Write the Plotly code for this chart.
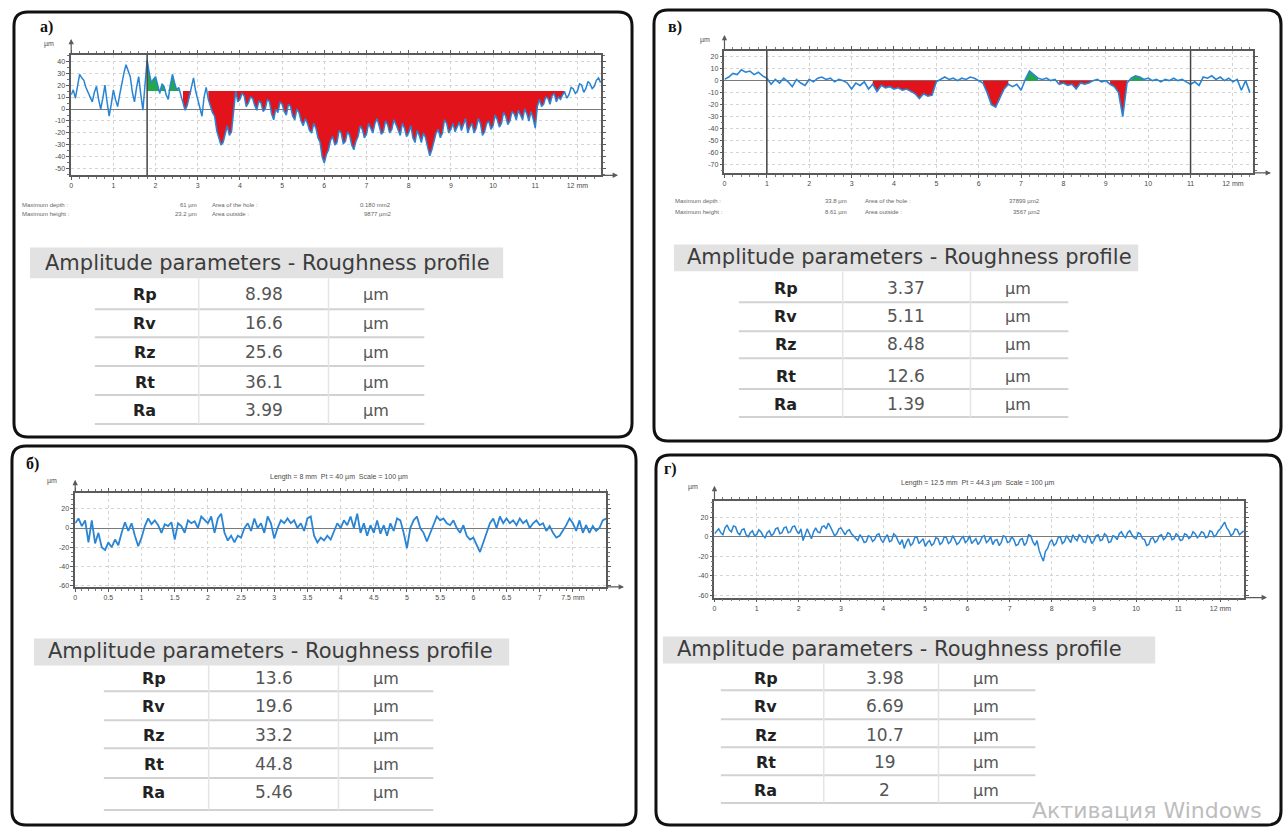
import plotly.graph_objects as go

W, H = 1283, 829


def fx(p):
    return p / W


def fy(p):
    return 1 - p / H


# ------------------------------------------------------------------ data
# panel а) profile, sampled every 0.05 mm (µm)
step_a = 0.05
prof_a = [12, 16, 9, 20, 29, 26, 24, 18, 14, 10,
          6, 14, 19, 8, 0, 9, 20, 6, -6, 4,
          16, 8, 2, 12, 22, 30, 37, 31, 27, 14,
          6, 18, 27, 12, -1, 20, 41, 30, 22, 25,
          27, 20, 13, 21, 19, 12, 8, 20, 29, 22,
          16, 18, 12, 6, -1, 3, 10, 18, 26, 15,
          8, 0, -6, 10, 18, 8, 2, -3, -6, -18,
          -24, -30, -28, -20, -14, -22, -19, -2, 15, 6,
          8, 13, 11, 2, 5, 10, 9, 3, -1, 7,
          5, -2, 0, 8, 6, -4, -9, 0, -3, 6,
          4, -2, -5, 4, 2, -6, -9, 0, -3, -10,
          -14, -8, -12, -18, -20, -12, -16, -24, -28, -40,
          -45, -38, -34, -26, -23, -30, -28, -18, -20, -29,
          -27, -19, -22, -30, -34, -27, -23, -14, -17, -24,
          -21, -12, -16, -20, -12, -8, -14, -21, -19, -10,
          -13, -20, -17, -9, -13, -18, -22, -12, -16, -23,
          -20, -14, -24, -28, -18, -22, -28, -20, -24, -32,
          -39, -34, -26, -20, -17, -24, -20, -9, -12, -20,
          -17, -12, -19, -15, -11, -18, -13, -8, -20, -15,
          -12, -20, -16, -8, -12, -22, -19, -12, -10, -17,
          -14, -5, -9, -15, -12, -3, -6, -13, -10, -2,
          -4, -9, -1, -5, -9, 0, -4, -10, -2, -8,
          -16, 2, 8, 2, 4, 10, 9, 4, 11, 13,
          6, 10, 8, 12, 14, 9, 12, 18, 17, 13,
          15, 21, 20, 14, 17, 23, 21, 17, 19, 24,
          26, 22]
cursor_a = [1.8]
ref_a = 15
holes_a = [(2.65, 2.85), (3.25, 11.7)]
bumps_a = [(1.8, 2.55)]

# panel в) profile, sampled every 0.1 mm (µm)
step_v = 0.1
prof_v = [1, 3, 6, 5, 9, 7, 8, 5, 7, 4,
          2, -3, 1, -2, 2, -1, -5, 1, -2, -4,
          1, -1, 2, 3, 1, 2, -1, 1, 0, -2,
          -7, -2, -4, -1, -7, -3, -9, -4, -6, -5,
          -7, -6, -8, -7, -9, -11, -15, -11, -13, -12,
          -1, 1, 3, 1, 2, 0, 2, 1, 3, 2,
          0, -2, -10, -20, -22, -14, -7, -3, -5, -3,
          -8, 1, 8, 5, 2, 1, 2, 0, 1, -3,
          -2, -4, -3, -7, -2, -3, -2, 0, 1, -1,
          0, -3, -5, -10, -30, -2, 2, 4, 3, 1,
          2, 0, 1, -1, 1, 0, 2, 0, 1, -1,
          -3, -1, -4, 3, 2, 4, 1, 3, 0, 2,
          -1, 1, -8, 0, -10]
cursor_v = [1.0, 11.0]
ref_v = 0
holes_v = [(3.5, 5.0), (6.1, 6.75), (7.9, 8.7), (9.1, 9.5)]
bumps_v = [(7.1, 7.4), (9.6, 9.9)]

# panel б) profile, sampled every 0.05 mm (µm)
step_b = 0.05
prof_b = [5, 10, 2, 8, -15, 8, -16, -5, -20, -23,
          -15, -20, -12, -18, -5, 6, -3, 5, -8, -19,
          -10, 2, 10, 4, 8, 3, -5, 4, 2, 6,
          -12, 5, 2, -5, 8, 5, 7, 0, 12, 8,
          5, 12, -5, 10, 15, -5, -13, -8, -15, -8,
          -10, 0, 5, -3, 10, 0, 5, -5, 12, 5,
          -11, 0, 8, 5, 10, 5, 8, 0, 5, -3,
          10, 12, -8, -15, -10, -13, -8, -12, -3, 5,
          0, 8, 3, 12, 0, 15, -5, 5, -8, 3,
          -5, 8, -6, 3, -8, 5, -3, 10, 8, -5,
          -21, 0, 8, 12, 0, -5, -14, -5, 5, 12,
          8, 10, 5, 3, 8, 0, -5, 3, -8, -12,
          -10, -18, -25, -15, -5, 5, 10, 0, 12, 5,
          10, 5, 8, 3, 10, 5, 8, 0, 5, 8,
          3, 5, -3, 2, -5, -10, -8, -3, 3, 10,
          5, -3, 8, -5, 3, -5, 2, -3, 0, 8,
          10]

# panel г) profile, sampled every 0.05 mm (µm)
step_g = 0.05
prof_g = [3, 6, 8, 4, 2, 9, 12, 7, 5, 11,
          10, 4, 2, 7, 8, 2, 0, 4, 6, 1,
          2, 7, 5, 1, -1, 4, 6, 1, 3, 8,
          9, 3, 4, 9, 10, 4, 5, 10, 11, 6,
          3, 8, -4, 2, 8, 3, -2, 5, 9, 5,
          4, 10, 11, 8, 14, 10, 6, 1, 3, 8,
          9, 5, 2, 6, 7, 3, 1, -2, -4, 2,
          -1, -6, -5, 1, 0, -5, -3, 2, 3, -3,
          -6, -1, 2, -5, -4, 3, 1, -4, -8, -3,
          -12, -6, -2, -9, -7, -1, 0, -7, -5, -2,
          -10, -6, -4, -9, -7, -1, -2, -8, -6, 0,
          -1, -7, -5, 1, -3, -8, -6, -2, 0, -6,
          -4, 1, -7, -4, -2, -8, -5, 0, 1, -6,
          -4, 0, -8, -4, -3, -9, -6, 1, 0, -6,
          -5, 0, -3, -9, -8, -3, -2, -9, -6, 2,
          1, -5, -9, -4, -14, -20, -25, -15, -12, -6,
          -3, -9, -7, -1, 0, -7, -5, 1, -2, -6,
          2, -2, -4, 2, 0, -5, -6, 1, -1, -7,
          -4, 1, 2, -4, -3, 3, 1, -6, -5, 1,
          0, -3, 3, 5, 1, -1, 4, 6, 2, -1,
          -2, 4, 3, -2, -3, -9, -8, -2, -1, -6,
          -4, 1, 2, -3, -1, 4, 3, -3, -2, 3,
          1, -4, -3, 3, 2, -2, 0, 5, 3, -1,
          1, 5, 4, -1, 0, 6, 5, 0, 2, 6,
          8, 12, 15, 9, 6, 1, 3, 8, 7, 2,
          4, 6]

# tables
params = ["Rp", "Rv", "Rz", "Rt", "Ra"]
vals_a = ["8.98", "16.6", "25.6", "36.1", "3.99"]
vals_v = ["3.37", "5.11", "8.48", "12.6", "1.39"]
vals_b = ["13.6", "19.6", "33.2", "44.8", "5.46"]
vals_g = ["3.98", "6.69", "10.7", "19", "2"]
unit = "µm"
table_title = "Amplitude parameters - Roughness profile"

# axis ticks
xt_a = list(range(0, 13))
yt_a = [40, 30, 20, 10, 0, -10, -20, -30, -40, -50]
xt_v = list(range(0, 13))
yt_v = [20, 10, 0, -10, -20, -30, -40, -50, -60, -70]
xt_b = [0, 0.5, 1, 1.5, 2, 2.5, 3, 3.5, 4, 4.5, 5, 5.5, 6, 6.5, 7, 7.5]
yt_b = [20, 0, -20, -40, -60]
xt_g = list(range(0, 13))
yt_g = [20, 0, -20, -40, -60]

title_b = "Length = 8 mm  Pt = 40 µm  Scale = 100 µm"
title_g = "Length = 12.5 mm  Pt = 44.3 µm  Scale = 100 µm"
info_a = [["Maximum depth :", "61 µm", "Area of the hole :", "0.180 mm2"],
          ["Maximum height :", "23.2 µm", "Area outside :", "9877 µm2"]]
info_v = [["Maximum depth :", "33.8 µm", "Area of the hole :", "37899 µm2"],
          ["Maximum height :", "8.61 µm", "Area outside :", "3567 µm2"]]

# ------------------------------------------------------------------ style
BLUE = "#2a84d4"
RED = "#e3131b"
GREEN = "#22a84a"
AXC = "#5a5a5a"
FONT = "Liberation Sans"
TFONT = "DejaVu Sans"

fig = go.Figure()
shapes = []
annots = []


def note(xpx, ypx, text, size, color, family=FONT, xanchor="center"):
    annots.append(dict(x=fx(xpx), y=fy(ypx), xref="paper", yref="paper", text=text,
                       showarrow=False, xanchor=xanchor, yanchor="middle",
                       font=dict(size=size, color=color, family=family)))


def xs_of(prof, step):
    return [round(i * step, 3) for i in range(len(prof))]


def add_fill(xa, ya, xs, ys, lo, hi, ref, color, below):
    sx = [x for x in xs if lo - 1e-9 <= x <= hi + 1e-9]
    sy = [y for x, y in zip(xs, ys) if lo - 1e-9 <= x <= hi + 1e-9]
    if len(sx) < 2:
        return
    clip = [min(y, ref) if below else max(y, ref) for y in sy]
    fig.add_trace(go.Scatter(x=sx, y=[ref] * len(sx), mode="lines",
                             line=dict(width=0), xaxis=xa, yaxis=ya,
                             hoverinfo="skip", showlegend=False))
    fig.add_trace(go.Scatter(x=sx, y=clip, mode="lines", line=dict(width=0),
                             fill="tonexty", fillcolor=color, xaxis=xa,
                             yaxis=ya, hoverinfo="skip", showlegend=False))


# panel geometry in pixels: plot box left, right, top, bottom
panels = {
    "a": dict(ax="", box=(69.3, 600.4, 55.0, 175.7), xr=[0, 12.57], yr=[-55.3, 45.2],
              xt=xt_a, yt=yt_a, xminor=0.2, yminor=5, arrow_x=617, arrow_y=39,
              mu=(54, 44)),
    "v": dict(ax="2", box=(723.6, 1252.8, 51.0, 173.3), xr=[0, 12.47], yr=[-76.9, 24.8],
              xt=xt_v, yt=yt_v, xminor=0.2, yminor=5, arrow_x=1271, arrow_y=35,
              mu=(711, 40)),
    "b": dict(ax="3", box=(73.3, 605.0, 494.0, 588.3), xr=[0, 8.0], yr=[-61.3, 36.7],
              xt=xt_b, yt=yt_b, xminor=0.1, yminor=5, arrow_x=623, arrow_y=481,
              mu=(57, 482)),
    "g": dict(ax="4", box=(713.6, 1244.0, 502.3, 599.0), xr=[0, 12.56], yr=[-62.2, 36.4],
              xt=xt_g, yt=yt_g, xminor=0.2, yminor=5, arrow_x=1267, arrow_y=487,
              mu=(699, 488)),
}

layout_axes = {}
for key, p in panels.items():
    l, r, t, b = p["box"]
    xname = "xaxis" + p["ax"]
    yname = "yaxis" + p["ax"]
    xt = p["xt"]
    xtext = [("%g" % v) for v in xt]
    xtext[-1] = xtext[-1] + " mm"
    layout_axes[xname] = dict(
        domain=[fx(l), fx(r)], range=p["xr"], anchor="y" + p["ax"],
        tickvals=xt, ticktext=xtext, showgrid=True, gridcolor="#d4d4d4",
        griddash="dot", gridwidth=1, zeroline=False, showline=True,
        linecolor=AXC, linewidth=1.5, mirror="allticks", ticks="outside",
        ticklen=3, tickcolor=AXC, tickwidth=1,
        tickfont=dict(size=7, color="#4a4a4a", family=FONT),
        minor=dict(ticks="outside", ticklen=2, tickcolor="#777", dtick=p["xminor"],
                   tick0=0, showgrid=False),
        fixedrange=True)
    layout_axes[yname] = dict(
        domain=[fy(b), fy(t)], range=p["yr"], anchor="x" + p["ax"],
        tickvals=p["yt"], ticktext=[str(v) for v in p["yt"]], showgrid=True,
        gridcolor="#d4d4d4", griddash="dot", gridwidth=1, zeroline=True,
        zerolinecolor="#7a7a7a", zerolinewidth=1.2, showline=True,
        linecolor=AXC, linewidth=1.5, mirror="allticks", ticks="outside",
        ticklen=3, tickcolor=AXC, tickwidth=1,
        tickfont=dict(size=7, color="#4a4a4a", family=FONT),
        minor=dict(ticks="outside", ticklen=2, tickcolor="#777", dtick=p["yminor"],
                   tick0=0, showgrid=False),
        fixedrange=True)
    # axis arrows
    annots.append(dict(x=fx(p["arrow_x"]), y=fy(b), xref="paper", yref="paper",
                       ax=-(p["arrow_x"] - r), ay=0, text="", showarrow=True,
                       arrowhead=2, arrowsize=0.9, arrowwidth=1.2, arrowcolor=AXC))
    annots.append(dict(x=fx(l), y=fy(p["arrow_y"]), xref="paper", yref="paper",
                       ax=0, ay=(t - p["arrow_y"]), text="", showarrow=True,
                       arrowhead=2, arrowsize=0.9, arrowwidth=1.2, arrowcolor=AXC))
    note(p["mu"][0], p["mu"][1], "µm", 7, "#4a4a4a", xanchor="right")

# profiles and fills
xa_a = xs_of(prof_a, step_a)
xa_v = xs_of(prof_v, step_v)
xa_b = xs_of(prof_b, step_b)
xa_g = xs_of(prof_g, step_g)

for lo, hi in holes_a:
    add_fill("x", "y", xa_a, prof_a, lo, hi, ref_a, RED, True)
for lo, hi in bumps_a:
    add_fill("x", "y", xa_a, prof_a, lo, hi, ref_a, GREEN, False)
for lo, hi in holes_v:
    add_fill("x2", "y2", xa_v, prof_v, lo, hi, ref_v, RED, True)
for lo, hi in bumps_v:
    add_fill("x2", "y2", xa_v, prof_v, lo, hi, ref_v, GREEN, False)

for xs, ys, xa, ya, w in [(xa_a, prof_a, "x", "y", 1.5), (xa_v, prof_v, "x2", "y2", 1.6),
                          (xa_b, prof_b, "x3", "y3", 1.8), (xa_g, prof_g, "x4", "y4", 1.5)]:
    fig.add_trace(go.Scatter(x=xs, y=ys, mode="lines", line=dict(color=BLUE, width=w),
                             xaxis=xa, yaxis=ya, hoverinfo="skip", showlegend=False))

# cursors
for c in cursor_a:
    shapes.append(dict(type="line", xref="x", yref="y domain", x0=c, x1=c, y0=0, y1=1,
                       line=dict(color="#444", width=1.5)))
for c in cursor_v:
    shapes.append(dict(type="line", xref="x2", yref="y2 domain", x0=c, x1=c, y0=0, y1=1,
                       line=dict(color="#444", width=1.5)))


# rounded panel borders
def rounded(x0, y0, x1, y1, r):
    pts = [
        ("M", x0 + r, y0), ("L", x1 - r, y0), ("Q", x1, y0, x1, y0 + r),
        ("L", x1, y1 - r), ("Q", x1, y1, x1 - r, y1), ("L", x0 + r, y1),
        ("Q", x0, y1, x0, y1 - r), ("L", x0, y0 + r), ("Q", x0, y0, x0 + r, y0),
    ]
    out = []
    for seg in pts:
        cmd = seg[0]
        coords = seg[1:]
        parts = []
        for i in range(0, len(coords), 2):
            parts.append("%.5f,%.5f" % (fx(coords[i]), fy(coords[i + 1])))
        out.append(cmd + " " + " ".join(parts))
    return " ".join(out) + " Z"


for box in [(12, 12, 631, 438), (653, 10, 1281, 442), (10, 447, 635, 827), (655, 456, 1281, 827)]:
    shapes.append(dict(type="path", xref="paper", yref="paper", path=rounded(*box, 14),
                       line=dict(color="#111", width=3), fillcolor="rgba(0,0,0,0)"))

# panel labels
for txt, x, y in [("а)", 36, 27), ("в)", 665, 27), ("б)", 22, 465), ("г)", 661, 470)]:
    note(x, y, "<b>%s</b>" % txt, 16, "#111", family="Liberation Serif", xanchor="left")

# titles of б and г
note(338, 478, title_b, 7, "#4a4a4a")
note(978, 484, title_g, 7, "#4a4a4a")


# info lines under а and в
def add_info(rows, xs_px, ys_px, anchors):
    for row, ypx in zip(rows, ys_px):
        for txt, xpx, anc in zip(row, xs_px, anchors):
            note(xpx, ypx, txt, 6, "#666", xanchor=anc)


add_info(info_a, [18, 197, 208, 392], [205, 215], ["left", "right", "left", "right"])
add_info(info_v, [672, 848, 862, 1042], [201, 213], ["left", "right", "left", "right"])


# tables
def add_table(band, title_cx, title_cy, rows_y, lines_y, left, right, divs, cxs, vals):
    x0, y0, x1, y1 = band
    shapes.append(dict(type="rect", xref="paper", yref="paper", x0=fx(x0), x1=fx(x1),
                       y0=fy(y1), y1=fy(y0), fillcolor="#e2e2e2", line=dict(width=0),
                       layer="below"))
    note(title_cx, title_cy, table_title, 21, "#3c3c3c", family=TFONT)
    for ly in lines_y:
        shapes.append(dict(type="line", xref="paper", yref="paper", x0=fx(left), x1=fx(right),
                           y0=fy(ly), y1=fy(ly), line=dict(color="#d2d2d2", width=2)))
    for dx in divs:
        shapes.append(dict(type="line", xref="paper", yref="paper", x0=fx(dx), x1=fx(dx),
                           y0=fy(y1), y1=fy(lines_y[-1]), line=dict(color="#e4e4e4", width=1.5)))
    for name, val, ry in zip(params, vals, rows_y):
        note(cxs[0], ry, "<b>%s</b>" % name, 16, "#222", family=TFONT)
        note(cxs[1], ry, str(val), 17, "#555", family=TFONT)
        note(cxs[2], ry, unit, 16, "#555", family=TFONT)


add_table((28, 248, 502, 279), 266, 264, [295, 324, 353, 383, 411], [310, 338, 367, 396, 425],
          93, 423, [197, 327], [143, 262, 375], vals_a)
add_table((673, 245, 1138, 272), 909, 258, [289, 317, 345, 377, 405], [303, 332, 359, 390, 418],
          738, 1068, [842, 970], [785, 905, 1018], vals_v)
add_table((32, 640, 508, 667), 269, 653, [680, 708, 737, 766, 794], [693, 722, 750, 780, 812],
          102, 432, [207, 337], [152, 272, 385], vals_b)
add_table((662, 638, 1155, 665), 899, 651, [680, 708, 737, 764, 792], [692, 721, 749, 777, 805],
          720, 1035, [823, 938], [765, 884, 986], vals_g)

# watermark
note(1030, 812, "Активация Windows", 22, "#bdbdbd", family="DejaVu Sans", xanchor="left")

fig.update_layout(width=W, height=H, margin=dict(l=0, r=0, t=0, b=0),
                  paper_bgcolor="white", plot_bgcolor="white", showlegend=False,
                  shapes=shapes, annotations=annots, **layout_axes)

fig.write_html("out.html", config={"displayModeBar": False},
               post_script="document.body.style.margin='0';")
